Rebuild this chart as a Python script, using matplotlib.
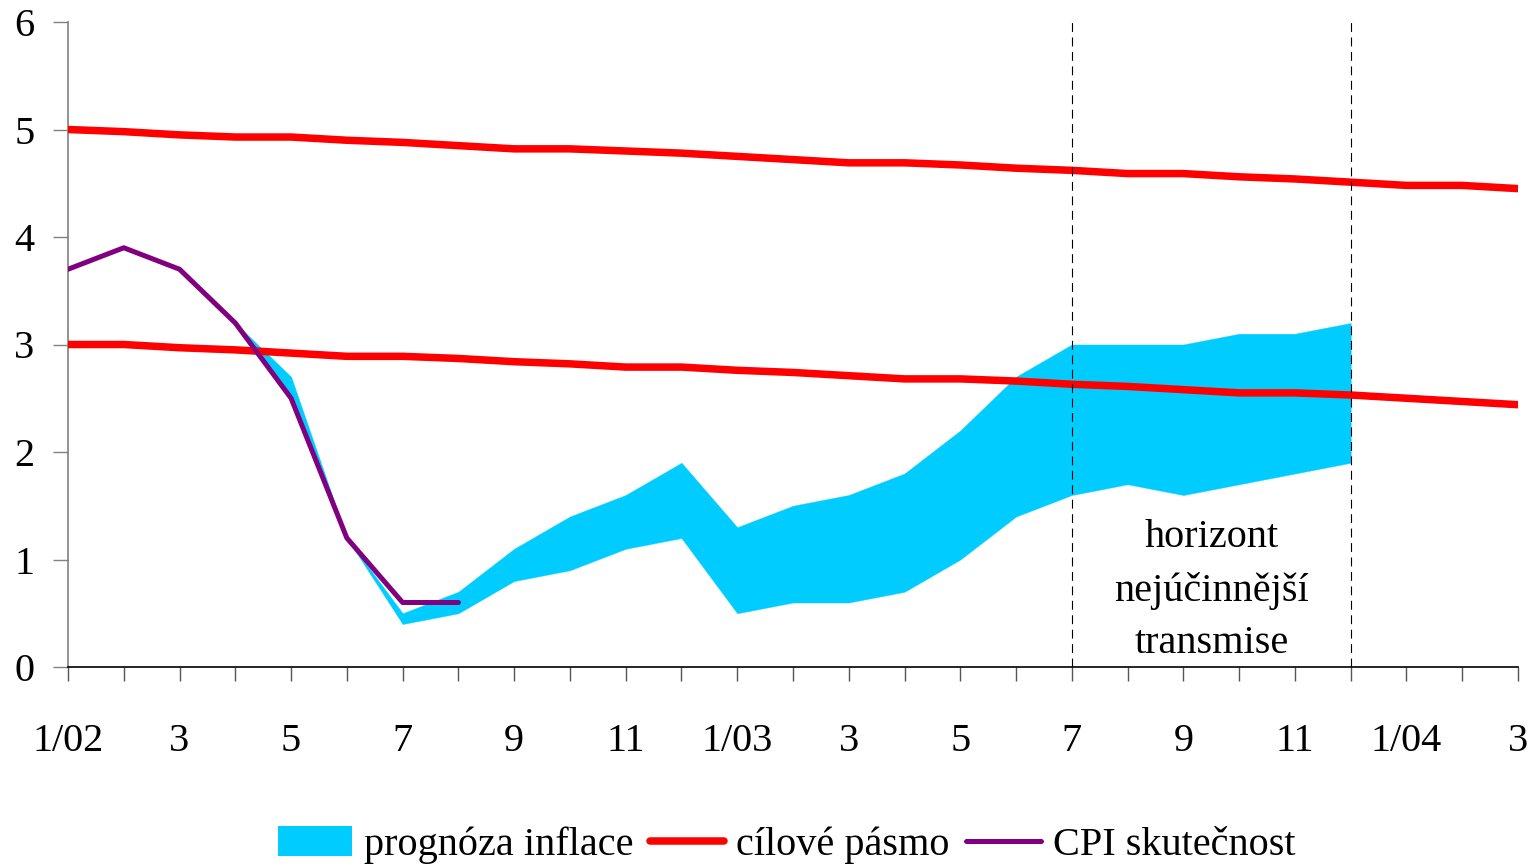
import matplotlib
matplotlib.use("Agg")
import matplotlib.pyplot as plt
from matplotlib.patches import Patch
from matplotlib.lines import Line2D
import numpy as np

plt.rcParams['font.family'] = ['Liberation Serif', 'DejaVu Serif']

# months 1/2002 .. 3/2004
mesice = ['1/02', '2', '3', '4', '5', '6', '7', '8', '9', '10', '11', '12',
          '1/03', '2', '3', '4', '5', '6', '7', '8', '9', '10', '11', '12',
          '1/04', '2', '3']

# cilove pasmo - upper and lower bound
pasmo_horni = [5.00, 4.98, 4.95, 4.93, 4.93, 4.90, 4.88, 4.85, 4.82, 4.82,
               4.80, 4.78, 4.75, 4.72, 4.69, 4.69, 4.67, 4.64, 4.62, 4.59,
               4.59, 4.56, 4.54, 4.51, 4.48, 4.48, 4.45]
pasmo_dolni = [3.00, 3.00, 2.97, 2.95, 2.92, 2.89, 2.89, 2.87, 2.84, 2.82,
               2.79, 2.79, 2.76, 2.74, 2.71, 2.68, 2.68, 2.66, 2.63, 2.61,
               2.58, 2.55, 2.55, 2.53, 2.50, 2.47, 2.44]

# CPI skutecnost (1/02 - 8/02)
cpi = [3.7, 3.9, 3.7, 3.2, 2.5, 1.2, 0.6, 0.6]

# prognoza inflace - band (from 4/02 to 12/03)
prog_dolni = [None, None, None, 3.2, 2.5, 1.2, 0.4, 0.5, 0.8, 0.9, 1.1, 1.2,
              0.5, 0.6, 0.6, 0.7, 1.0, 1.4, 1.6, 1.7, 1.6, 1.7, 1.8, 1.9]
prog_horni = [None, None, None, 3.2, 2.7, 1.2, 0.5, 0.7, 1.1, 1.4, 1.6, 1.9,
              1.3, 1.5, 1.6, 1.8, 2.2, 2.7, 3.0, 3.0, 3.0, 3.1, 3.1, 3.2]

horizont = [18, 23]  # 7/03 a 12/03

cyan = '#00CCFF'
red = '#FF0000'
purple = '#800080'

x = np.arange(len(mesice))
fig = plt.figure(figsize=(15.33, 8.66), dpi=100)
ax = fig.add_axes([68/1533, 1-667/866, (1518-68)/1533, (667-22)/866])

xp = np.arange(len(prog_dolni))
lo = np.array([np.nan if v is None else v for v in prog_dolni])
hi = np.array([np.nan if v is None else v for v in prog_horni])
ax.fill_between(xp, lo, hi, color=cyan, linewidth=0.3, edgecolor=cyan, zorder=1)

ax.plot(x, pasmo_horni, color=red, lw=5.4, solid_capstyle='round', zorder=3)
ax.plot(x, pasmo_dolni, color=red, lw=5.4, solid_capstyle='round', zorder=3)
ax.plot(np.arange(len(cpi)), cpi, color=purple, lw=3.6, solid_capstyle='round', zorder=4)

for h in horizont:
    ax.axvline(h, color='black', lw=0.8, ls=(0, (8, 5)), zorder=5)

ax.text(20.5, 0.71, 'horizont\nnejúčinnější\ntransmise', ha='center', va='center',
        fontsize=29, linespacing=1.55, zorder=6)

ax.set_xlim(0, 26)
ax.set_ylim(0, 6)
ax.set_xticks(x)
ax.set_xticklabels([m if i % 2 == 0 else '' for i, m in enumerate(mesice)])
ax.set_yticks(range(7))

for s in ['top', 'right']:
    ax.spines[s].set_visible(False)
ax.spines['left'].set_color('#808080')
ax.spines['bottom'].set_color('black')
ax.spines['left'].set_linewidth(1.2)
ax.spines['bottom'].set_linewidth(1.2)
ax.tick_params(axis='y', direction='out', length=11, width=1, color='#808080',
               labelsize=29, pad=13)
ax.tick_params(axis='x', direction='out', length=10, width=1, color='#555555',
               labelsize=29, pad=30)

handles = [Patch(facecolor=cyan, edgecolor='none'),
           Line2D([0], [0], color=red, lw=5.4, solid_capstyle='round'),
           Line2D([0], [0], color=purple, lw=3.6, solid_capstyle='round')]
labels = ['prognóza inflace', 'cílové pásmo', 'CPI skutečnost']
fig.legend(handles, labels, loc='center', bbox_to_anchor=(0.513, 1-845/866), ncol=3,
           frameon=False, fontsize=29, handlelength=1.85, handleheight=0.75,
           handletextpad=0.3, columnspacing=0.4, borderaxespad=0)

fig.savefig('out.png', dpi=100)
